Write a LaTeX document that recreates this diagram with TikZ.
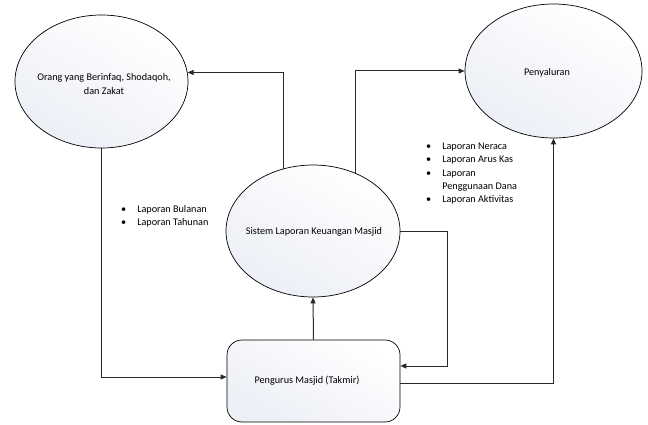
\documentclass[tikz,border=0pt]{standalone}
\usepackage{fontspec}
\setmainfont{Carlito}
\usetikzlibrary{shapes.geometric,arrows.meta,calc}
\pgfdeclarelayer{background}
\pgfsetlayers{background,main}
\definecolor{ellfill}{RGB}{236,239,246}
\definecolor{linec}{RGB}{40,40,40}
\begin{document}
\begin{tikzpicture}[x=1pt,y=-1pt,
  every node/.style={font=\fontsize{10.2}{13.3}\selectfont},
  proc/.style={ellipse,draw=black,line width=0.7pt,inner sep=0pt,
    top color=white,bottom color=ellfill,shading angle=-30},
  ent/.style={rectangle,rounded corners=15pt,draw=black,line width=0.7pt,inner sep=0pt,
    top color=white,bottom color=ellfill,shading angle=-30},
  conn/.style={draw=linec,line width=1pt},
  arr/.style={conn,-{Triangle[length=6pt,width=5pt]}},
  list/.style={anchor=north west,inner sep=0pt,align=left}]
\useasboundingbox (0,0) rectangle (648,425);
\node[proc,minimum width=173pt,minimum height=133pt] (org) at (101.5,81.5) {};
\node[align=center] (orgt) at (104,84) {Orang yang Berinfaq, Shodaqoh,\\dan Zakat};
\node[proc,minimum width=177pt,minimum height=134pt] (pen) at (553.5,71) {};
\node (pent) at (547,73) {Penyaluran};
\node[proc,minimum width=174pt,minimum height=132pt] (sis) at (313,231) {};
\node (sist) at (314,232) {Sistem Laporan Keuangan Masjid};
\node[ent,minimum width=173pt,minimum height=82pt] (pg) at (313.5,381) {};
\node (pgt) at (307,381) {Pengurus Masjid (Takmir)};
\node[list] (l1) at (121,203) {\begin{tabular}{@{}l@{\hspace{11pt}}l@{}}
\textbullet & Laporan Bulanan\\
\textbullet & Laporan Tahunan
\end{tabular}};
\node[list] (l2) at (426,140) {\begin{tabular}{@{}l@{\hspace{11pt}}l@{}}
\textbullet & Laporan Neraca\\
\textbullet & Laporan Arus Kas\\
\textbullet & Laporan\\
 & Penggunaan Dana\\
\textbullet & Laporan Aktivitas
\end{tabular}};
\begin{pgfonlayer}{background}
\draw[arr] ($(sis.center)+(-30,0)$) |- (org.6);
\draw[arr] ($(sis.center)+(42,0)$) |- (pen.west);
\draw[arr] (org.south) |- ($(pg.west)+(0,-4)$);
\draw[arr] (pg.north) -- (sis.south);
\draw[arr] (sis.east) -| ($(pg.east)+(47,-15)$) -- ($(pg.east)+(0,-15)$);
\draw[arr] ($(pg.east)+(0,2)$) -| (pen.south);
\end{pgfonlayer}
\end{tikzpicture}
\end{document}
